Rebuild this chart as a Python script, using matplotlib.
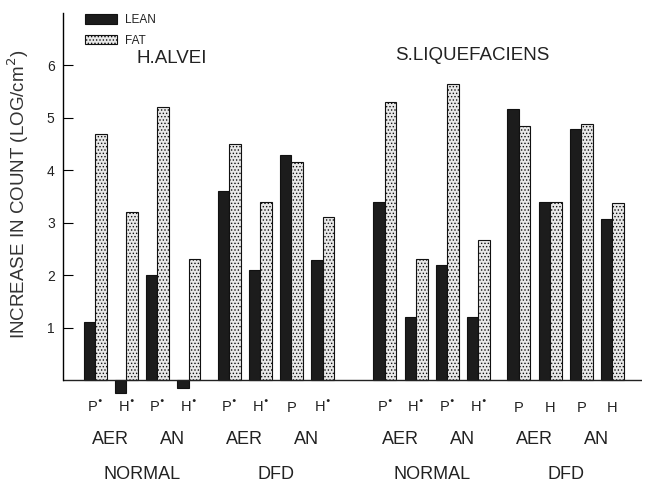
import matplotlib
matplotlib.use("Agg")
import matplotlib.pyplot as plt
import numpy as np

plt.rcParams['font.family'] = ['Liberation Sans', 'DejaVu Sans']
plt.rcParams['hatch.linewidth'] = 0.6

# bacteria -> storage condition -> atmosphere -> P / H pairs
organisms = ['H.ALVEI', 'S.LIQUEFACIENS']
conditions = ['NORMAL', 'DFD']
atmospheres = ['AER', 'AN']
pair_labels = [
    ['P*', 'H*', 'P*', 'H*', 'P*', 'H*', 'P', 'H*'],
    ['P*', 'H*', 'P*', 'H*', 'P', 'H', 'P', 'H'],
]

lean = [
    [1.1, -0.25, 2.0, -0.15, 3.6, 2.1, 4.3, 2.28],
    [3.4, 1.2, 2.2, 1.2, 5.17, 3.39, 4.78, 3.08],
]
fat = [
    [4.7, 3.2, 5.2, 2.3, 4.5, 3.4, 4.15, 3.1],
    [5.3, 2.3, 5.65, 2.67, 4.85, 3.39, 4.88, 3.38],
]

# x positions of the pair centres, with gaps between condition and organism blocks
pos = []
x = 0.0
for oi in range(2):
    for ci in range(2):
        for k in range(4):
            pos.append(x)
            x += 1.0
        x += 0.3
    x += 0.7
pos = np.array(pos)

lean_all = np.array(lean[0] + lean[1])
fat_all = np.array(fat[0] + fat[1])
labels_all = pair_labels[0] + pair_labels[1]

fig = plt.figure(figsize=(6.48, 4.84), dpi=100)
ax = fig.add_axes([63 / 648, 1 - 401 / 484, (642 - 63) / 648, (401 - 13) / 484])

w = 0.37
ax.bar(pos - w / 2, lean_all, width=w, color='#1c1c1c', edgecolor='#111111',
       linewidth=0.8, label='LEAN')
ax.bar(pos + w / 2, fat_all, width=w, color='#e8e8e8', edgecolor='#111111',
       linewidth=0.8, hatch='.....', label='FAT')

ax.set_xlim(-1.03, pos[-1] + 0.95)
ax.set_ylim(-0.4, 7.0)
ax.axhline(0, color='#222222', linewidth=1.0)
for s in ['top', 'right', 'bottom']:
    ax.spines[s].set_visible(False)
ax.spines['left'].set_bounds(0, 7.0)
ax.spines['left'].set_linewidth(1.0)
ax.set_yticks([1, 2, 3, 4, 5, 6])
ax.tick_params(axis='y', direction='in', length=7, labelsize=10, pad=6,
               labelcolor='#222222')
ax.set_xticks([])

# category labels below the axis
trans = ax.get_xaxis_transform()
for xp, lab in zip(pos, labels_all):
    if lab.endswith('*'):
        lab = lab[0] + r'$^{\bullet}$'
    ax.text(xp, -0.017, lab, transform=trans, ha='center', va='center',
            fontsize=10.5, color='#222222')
for blk in range(4):
    p = pos[blk * 4:(blk + 1) * 4]
    ax.text((p[0] + p[1]) / 2, -0.10, 'AER', transform=trans, ha='center',
            va='center', fontsize=13, color='#222222')
    ax.text((p[2] + p[3]) / 2, -0.10, 'AN', transform=trans, ha='center',
            va='center', fontsize=13, color='#222222')
    ax.text((p[0] + p[3]) / 2, -0.19, conditions[blk % 2], transform=trans,
            ha='center', va='center', fontsize=13, color='#222222')

ax.text(pos[2] + 0.45, 6.13, organisms[0], ha='center', va='center',
        fontsize=13.5, color='#222222')
ax.text(pos[10] + 0.8, 6.19, organisms[1], ha='center', va='center',
        fontsize=13.5, color='#222222')

fig.text(18 / 648, 1 - 194 / 484, 'INCREASE IN COUNT (LOG/cm$^2$)', rotation=90,
         ha='center', va='center', fontsize=13.5, color='#333333')

leg = ax.legend(loc='upper left', bbox_to_anchor=(0.02, 1.025), frameon=False,
                fontsize=8.5, handlelength=2.7, handleheight=0.85,
                labelspacing=0.75, handletextpad=0.7)
for t in leg.get_texts():
    t.set_color('#222222')

fig.savefig('out.png', dpi=100)
